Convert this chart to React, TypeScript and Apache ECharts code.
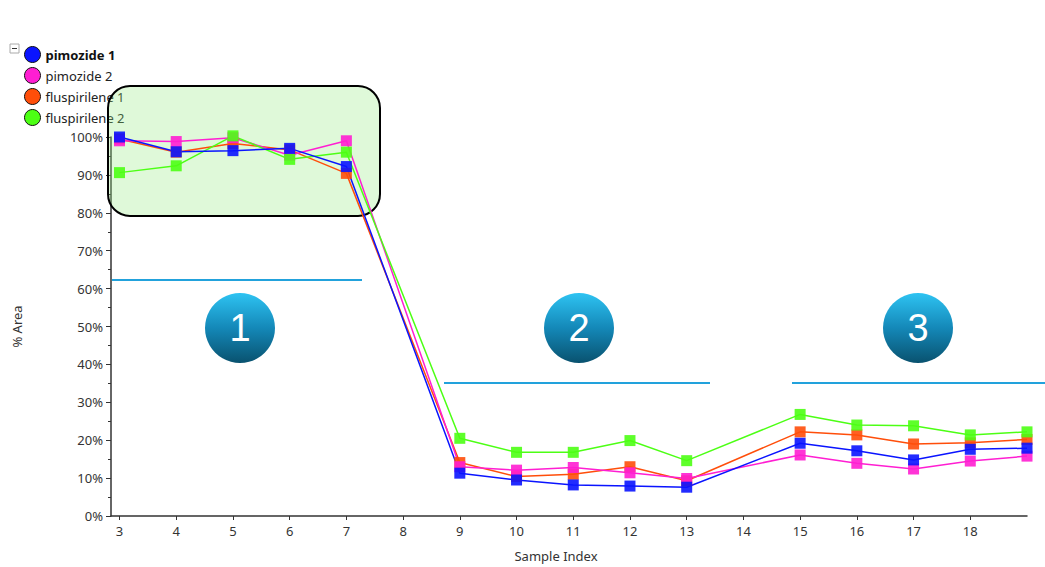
import React, { useEffect, useRef } from "react";
import * as echarts from "echarts";

const SAMPLE_INDEX = [3, 4, 5, 6, 7, 9, 10, 11, 12, 13, 15, 16, 17, 18, 19];
const X_TICKS = [3, 4, 5, 6, 7, 8, 9, 10, 11, 12, 13, 14, 15, 16, 17, 18];
const SERIES_NAMES = ["pimozide 1", "pimozide 2", "fluspirilene 1", "fluspirilene 2"];
const PIMOZIDE_1 = [100, 96.1, 96.4, 97, 92.2, 11.3, 9.5, 8.2, 7.9, 7.6, 19.2, 17.2, 14.8, 17.6, 17.9];
const PIMOZIDE_2 = [99, 98.8, 99.8, 95.2, 99, 13, 12.1, 12.8, 11.4, 9.9, 16.1, 13.9, 12.4, 14.5, 15.8];
const FLUSPIRILENE_1 = [99.5, 96, 98.3, 96.6, 90.4, 14.1, 10.4, 11, 13, 9.3, 22.2, 21.4, 19, 19.3, 20.2];
const FLUSPIRILENE_2 = [90.6, 92.4, 100.3, 94.1, 96, 20.5, 16.8, 16.8, 19.9, 14.6, 26.8, 24, 23.8, 21.4, 22.2];
const PHASE_LABELS = ["1", "2", "3"];

const COLORS: Record<string, string> = {
  "pimozide 1": "#0a14ff",
  "pimozide 2": "#ff1ed2",
  "fluspirilene 1": "#ff4e0a",
  "fluspirilene 2": "#4cff14",
};

const FONT = "'Noto Sans', 'Open Sans', sans-serif";

export default function App() {
  const ref = useRef<HTMLDivElement>(null);

  useEffect(() => {
    if (!ref.current) return;
    const chart = echarts.init(ref.current, undefined, { renderer: "svg" });

    const values: Record<string, number[]> = {
      "pimozide 1": PIMOZIDE_1,
      "pimozide 2": PIMOZIDE_2,
      "fluspirilene 1": FLUSPIRILENE_1,
      "fluspirilene 2": FLUSPIRILENE_2,
    };
    const drawOrder = ["fluspirilene 1", "pimozide 2", "fluspirilene 2", "pimozide 1"];

    const series = drawOrder.map((name) => ({
      name,
      type: "line",
      data: SAMPLE_INDEX.map((x, i) => [x, values[name][i]]),
      symbol: "rect",
      symbolSize: 11,
      showSymbol: true,
      clip: false,
      z: 3,
      lineStyle: { color: COLORS[name], width: 1.5 },
      itemStyle: { color: COLORS[name], opacity: 0.9 },
      emphasis: { disabled: true },
    }));

    const circleCenters = [240, 579, 918];
    const graphics: any[] = [];
    graphics.push({
      type: "rect",
      z: 2,
      shape: { x: 108, y: 86, width: 272, height: 130, r: 22 },
      style: { fill: "rgba(150,236,128,0.3)", stroke: "#000", lineWidth: 2 },
    });
    const hLines = [
      [112, 362, 280],
      [444, 710, 383],
      [792, 1045, 383],
    ];
    hLines.forEach(([x1, x2, y]) =>
      graphics.push({
        type: "line",
        z: 2,
        shape: { x1, y1: y, x2, y2: y },
        style: { stroke: "#22a2dc", lineWidth: 2 },
      })
    );
    circleCenters.forEach((cx, i) => {
      graphics.push({
        type: "circle",
        z: 2,
        shape: { cx, cy: 328, r: 35 },
        style: {
          fill: new echarts.graphic.LinearGradient(0, 0, 0, 1, [
            { offset: 0, color: "#2ec3f2" },
            { offset: 0.5, color: "#1488b8" },
            { offset: 1, color: "#09526f" },
          ]),
        },
      });
      graphics.push({
        type: "text",
        z: 3,
        x: cx,
        y: 328,
        style: {
          text: PHASE_LABELS[i],
          fill: "#ffffff",
          font: "38px 'Liberation Sans', Arial, sans-serif",
          align: "center",
          verticalAlign: "middle",
        },
      });
    });
    graphics.push({
      type: "rect",
      z: 2,
      shape: { x: 10, y: 44, width: 9, height: 9 },
      style: { fill: "#fff", stroke: "#aaa", lineWidth: 1 },
    });
    graphics.push({
      type: "line",
      z: 3,
      shape: { x1: 12, y1: 48.5, x2: 17, y2: 48.5 },
      style: { stroke: "#333", lineWidth: 1 },
    });

    chart.setOption({
      animation: false,
      backgroundColor: "#ffffff",
      grid: { left: 111, right: 18, top: 137, bottom: 51, containLabel: false },
      legend: {
        orient: "vertical",
        left: 19,
        top: 41,
        z: 1,
        data: SERIES_NAMES.map((n) => ({
          name: n,
          icon: "circle",
          itemStyle: { color: COLORS[n], borderColor: "#111", borderWidth: 1, opacity: 1 },
        })),
        itemWidth: 16,
        itemHeight: 16,
        itemGap: 4,
        selectedMode: false,
        formatter: (name: string) => (name === "pimozide 1" ? `{b|${name}}` : name),
        textStyle: {
          fontFamily: FONT,
          fontSize: 13,
          color: "#222",
          rich: { b: { fontWeight: "bold", fontFamily: FONT, fontSize: 13, color: "#111" } },
        },
      },
      xAxis: {
        type: "value",
        min: 2.85,
        max: 19,
        name: "Sample Index",
        nameLocation: "middle",
        nameGap: 33,
        nameTextStyle: { fontFamily: FONT, fontSize: 13, color: "#333", padding: [0, 26, 0, 0] },
        axisLine: { show: true, onZero: false, lineStyle: { color: "#333", width: 1.5 } },
        axisTick: { show: true, length: 4, customValues: X_TICKS, lineStyle: { color: "#333" } },
        axisLabel: {
          customValues: X_TICKS,
          fontFamily: FONT,
          fontSize: 13,
          color: "#333",
          margin: 8,
        },
        splitLine: { show: false },
      },
      yAxis: {
        type: "value",
        min: 0,
        max: 100,
        interval: 10,
        name: "% Area",
        nameLocation: "middle",
        nameGap: 88,
        nameTextStyle: { fontFamily: FONT, fontSize: 13, color: "#333" },
        axisLine: { show: true, lineStyle: { color: "#333", width: 1.5 } },
        axisTick: { show: true, length: 5, lineStyle: { color: "#333" } },
        minorTick: { show: true, splitNumber: 2, length: 3, lineStyle: { color: "#333" } },
        axisLabel: {
          formatter: "{value}%",
          fontFamily: FONT,
          fontSize: 13,
          color: "#333",
          margin: 8,
        },
        splitLine: { show: false },
      },
      series,
      graphic: graphics,
    });

    return () => chart.dispose();
  }, []);

  return (
    <div
      ref={ref}
      style={{ position: "fixed", left: 0, top: 0, width: 1045, height: 567, background: "#fff" }}
    />
  );
}
